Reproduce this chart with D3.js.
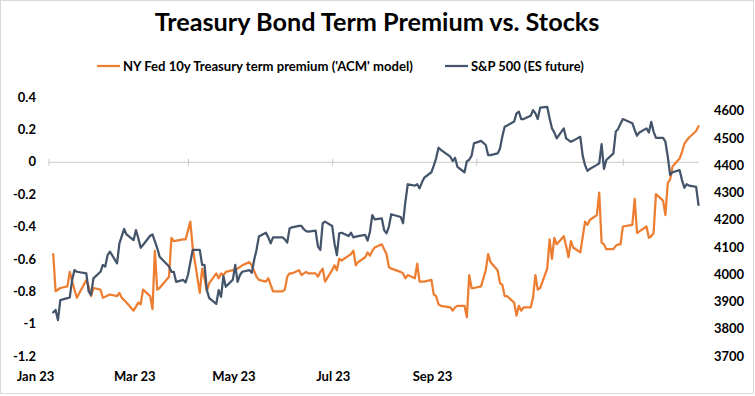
<!DOCTYPE html>
<html><head><meta charset="utf-8">
<script src="https://cdn.jsdelivr.net/npm/d3@7"></script>
<style>
body{margin:0;background:#fff}
svg{display:block}
text{font-family:Lato,"Liberation Sans",sans-serif;font-weight:700;fill:#000}
</style>
</head><body>
<svg id="c" width="755" height="396"></svg>
<script>
const chartTitle = "Treasury Bond Term Premium vs. Stocks";
const seriesNames = ["NY Fed 10y Treasury term premium ('ACM' model)", "S&P 500 (ES future)"];
const seriesColors = ["#ED7D31", "#44546A"];

const premDates = ["01-03","01-04","01-06","01-09","01-10","01-11","01-13","01-17","01-18","01-19","01-20","01-23","01-24","01-27","01-30","01-31",
"02-01","02-03","02-06","02-08","02-09","02-10","02-13","02-14","02-15","02-16","02-17","02-21","02-22","02-23","02-27","02-28",
"03-02","03-03","03-06","03-07","03-08","03-09","03-10","03-13","03-14","03-15","03-16","03-17","03-20","03-22","03-23","03-24","03-27","03-28","03-30","03-31",
"04-03","04-04","04-05","04-06","04-10","04-11","04-12","04-13","04-14","04-17","04-18","04-20","04-21","04-24","04-25","04-26","04-27","04-28",
"05-01","05-02","05-03","05-04","05-05","05-08","05-09","05-10","05-11","05-12","05-15","05-16","05-17","05-18","05-19","05-22","05-23","05-24","05-25","05-26","05-30","05-31",
"06-01","06-02","06-05","06-06","06-07","06-09","06-12","06-13","06-14","06-15","06-16","06-20","06-21","06-22","06-23","06-26","06-27","06-28","06-29","06-30",
"07-03","07-05","07-06","07-07","07-10","07-11","07-12","07-13","07-14","07-17","07-18","07-19","07-20","07-21","07-24","07-25","07-26","07-27","07-28","07-31",
"08-01","08-02","08-03","08-04","08-07","08-08","08-09","08-10","08-11","08-14","08-16","08-17","08-18","08-21","08-22","08-23","08-24","08-25","08-28","08-29","08-30","08-31",
"09-01","09-05","09-06","09-07","09-08","09-11","09-12","09-13","09-14","09-15","09-18","09-19","09-20","09-21","09-22","09-25","09-26","09-27","09-28","09-29",
"10-02","10-03"];
const premValues = [-0.57,-0.80,-0.78,-0.77,-0.68,-0.74,-0.84,-0.73,-0.77,-0.83,-0.78,-0.79,-0.84,-0.82,-0.83,-0.81,
-0.84,-0.87,-0.92,-0.87,-0.88,-0.79,-0.83,-0.91,-0.55,-0.79,-0.78,-0.71,-0.47,-0.49,-0.48,-0.48,
-0.37,-0.53,-0.81,-0.66,-0.72,-0.80,-0.75,-0.69,-0.72,-0.69,-0.70,-0.68,-0.67,-0.66,-0.65,-0.64,-0.62,-0.64,-0.71,-0.73,
-0.74,-0.72,-0.76,-0.80,-0.80,-0.79,-0.71,-0.69,-0.69,-0.67,-0.70,-0.68,-0.69,-0.69,-0.71,-0.68,-0.66,-0.74,
-0.67,-0.64,-0.67,-0.60,-0.61,-0.58,-0.57,-0.55,-0.64,-0.62,-0.59,-0.56,-0.58,-0.55,-0.53,-0.51,-0.54,-0.57,-0.65,-0.66,-0.68,-0.69,
-0.72,-0.70,-0.72,-0.63,-0.74,-0.74,-0.73,-0.82,-0.83,-0.88,-0.89,-0.90,-0.92,-0.90,-0.89,-0.89,-0.96,-0.70,-0.78,-0.78,
-0.77,-0.67,-0.57,-0.62,-0.67,-0.75,-0.76,-0.83,-0.83,-0.87,-0.95,-0.89,-0.92,-0.90,-0.90,-0.84,-0.70,-0.79,-0.78,-0.66,
-0.48,-0.60,-0.47,-0.51,-0.46,-0.52,-0.59,-0.49,-0.53,-0.56,-0.37,-0.39,-0.36,-0.33,-0.19,-0.50,-0.51,-0.54,-0.54,-0.52,-0.51,-0.51,
-0.40,-0.39,-0.23,-0.44,-0.43,-0.40,-0.47,-0.46,-0.44,-0.20,-0.24,-0.33,-0.13,-0.11,-0.03,0.02,0.06,0.11,0.13,0.15,
0.19,0.22];

const spxDates = ["01-03","01-04","01-05","01-06","01-09","01-10","01-11","01-12","01-13","01-17","01-18","01-19","01-20","01-23","01-24","01-25","01-26","01-27","01-30","01-31",
"02-02","02-03","02-06","02-07","02-08","02-09","02-10","02-13","02-14","02-16","02-17","02-21","02-22","02-23","02-24","02-27","02-28",
"03-01","03-03","03-06","03-07","03-08","03-09","03-10","03-13","03-14","03-15","03-16","03-17","03-20","03-21","03-22","03-23","03-24","03-27","03-28","03-29","03-30","03-31",
"04-03","04-04","04-05","04-06","04-10","04-11","04-12","04-13","04-14","04-17","04-18","04-19","04-20","04-21","04-24","04-25","04-26","04-27","04-28",
"05-01","05-02","05-03","05-04","05-05","05-08","05-09","05-10","05-11","05-12","05-15","05-16","05-17","05-18","05-19","05-22","05-23","05-24","05-25","05-26","05-30","05-31",
"06-01","06-02","06-05","06-06","06-07","06-08","06-09","06-12","06-13","06-14","06-15","06-16","06-20","06-21","06-22","06-23","06-26","06-27","06-28","06-29","06-30",
"07-03","07-05","07-06","07-07","07-10","07-11","07-12","07-13","07-14","07-17","07-18","07-19","07-20","07-21","07-24","07-25","07-26","07-27","07-28","07-31",
"08-01","08-02","08-03","08-04","08-07","08-08","08-09","08-10","08-11","08-14","08-15","08-16","08-17","08-18","08-21","08-22","08-23","08-24","08-25","08-28","08-29","08-30","08-31",
"09-01","09-05","09-06","09-07","09-08","09-11","09-12","09-13","09-14","09-15","09-18","09-19","09-20","09-21","09-22","09-25","09-26","09-27","09-28","09-29",
"10-02","10-03"];
const spxValues = [3860,3869,3832,3905,3912,3915,3979,4015,4009,4003,3936,3924,3985,4009,4034,4028,4070,4083,4040,4113,
4166,4146,4125,4162,4132,4097,4107,4141,4146,4096,4064,4028,4009,4009,3972,3979,3970,
3997,4089,4089,4034,4034,3942,3912,3891,3942,3917,3993,3954,3980,4034,3972,3997,4009,4015,4005,4052,4089,4138,
4152,4135,4113,4135,4135,4128,4116,4168,4172,4177,4177,4165,4158,4156,4160,4101,4089,4187,4193,
4177,4113,4070,4150,4152,4140,4152,4135,4138,4140,4144,4123,4156,4217,4201,4205,4162,4150,4174,4220,4210,4187,
4266,4330,4325,4330,4315,4337,4354,4374,4398,4425,4464,4456,4431,4415,4427,4394,4374,4414,4420,4435,4480,
4489,4474,4437,4437,4443,4460,4505,4541,4545,4560,4590,4596,4569,4569,4581,4602,4590,4569,4611,4614,
4572,4535,4520,4498,4535,4498,4492,4486,4490,4504,4435,4400,4379,4386,4401,4407,4477,4386,4419,4443,4523,4533,4552,
4569,4554,4529,4508,4520,4535,4520,4559,4523,4500,4500,4486,4431,4364,4374,4382,4346,4317,4330,4325,
4320,4254];

const leftTicks = [0.4, 0.2, 0, -0.2, -0.4, -0.6, -0.8, -1, -1.2];
const rightTicks = [3700, 3800, 3900, 4000, 4100, 4200, 4300, 4400, 4500, 4600];
const xLabels = ["Jan 23", "Mar 23", "May 23", "Jul 23", "Sep 23"];
const xTickDates = ["01-01", "03-01", "05-01", "07-01", "09-01"];
const xDomain = ["01-01", "10-03"];

const parse = d3.timeParse("%Y-%m-%d");
const pd = s => parse("2023-" + s);
const FONT = "Lato, 'Liberation Sans', sans-serif";

const svg = d3.select("#c");
svg.append("rect").attr("x", 0.5).attr("y", 0.5).attr("width", 753).attr("height", 393)
  .attr("fill", "#fff").attr("stroke", "#d9d9d9");

const x = d3.scaleTime().domain(xDomain.map(pd)).range([48.5, 698.5]);
const yL = d3.scaleLinear().domain([-1.2, 0.4]).range([356, 97]);
const yR = d3.scaleLinear().domain([3700, 4650]).range([356, 97]);
const xLab = d3.scalePoint().domain(xLabels).range([35, 432]);

function fit(sel, w) {
  const cur = sel.node().getComputedTextLength();
  sel.attr("font-size", parseFloat(sel.attr("font-size")) * w / cur);
}

// Title
const t = svg.append("text").attr("x", 377).attr("y", 31).attr("text-anchor", "middle")
  .attr("font-size", 22).text(chartTitle);
fit(t, 445);

// Legend
const leg = [{x0: 97, x1: 120, tx: 123, w: 290}, {x0: 445, x1: 468, tx: 471, w: 113}];
leg.forEach((L, i) => {
  svg.append("line").attr("x1", L.x0).attr("x2", L.x1).attr("y1", 66).attr("y2", 66)
    .attr("stroke", seriesColors[i]).attr("stroke-width", 2.25);
  const tt = svg.append("text").attr("x", L.tx).attr("y", 66).attr("dy", "0.35em")
    .attr("font-size", 13).text(seriesNames[i]);
  fit(tt, L.w);
});

// Left axis
const gl = svg.append("g").attr("transform", "translate(36,0)")
  .call(d3.axisLeft(yL).tickValues(leftTicks).tickSize(0).tickPadding(0).tickFormat(d => String(d)));
gl.select(".domain").remove();
gl.selectAll("text").attr("font-size", 13).attr("font-family", null).style("font-family", FONT);

// Right axis
const gr = svg.append("g").attr("transform", "translate(714,0)")
  .call(d3.axisRight(yR).tickValues(rightTicks).tickSize(0).tickPadding(0).tickFormat(d3.format("d")));
gr.select(".domain").remove();
gr.selectAll("text").attr("font-size", 13).attr("font-family", null).style("font-family", FONT);

// Zero (horizontal) axis line with tick marks
const gz = svg.append("g").attr("transform", `translate(0,${yL(0)})`)
  .call(d3.axisBottom(x).tickValues(xTickDates.map(pd)).tickSizeOuter(0).tickFormat(""));
gz.select(".domain").attr("stroke", "#c8c8c8").attr("stroke-width", 1);
gz.selectAll(".tick line").attr("y1", -3).attr("y2", 4).attr("stroke", "#c8c8c8");

// X labels
const gx = svg.append("g").attr("transform", "translate(0,372)")
  .call(d3.axisBottom(xLab).tickSize(0).tickPadding(0));
gx.select(".domain").remove();
gx.selectAll("text").attr("font-size", 13).attr("font-family", null).style("font-family", FONT);

// Lines
const premData = premDates.map((d, i) => ({d: pd(d), v: premValues[i]}));
const spxData = spxDates.map((d, i) => ({d: pd(d), v: spxValues[i]}));

svg.append("path").datum(premData)
  .attr("fill", "none").attr("stroke", seriesColors[0]).attr("stroke-width", 2.25)
  .attr("stroke-linejoin", "round").attr("stroke-linecap", "round")
  .attr("d", d3.line().x(p => x(p.d)).y(p => yL(p.v)));
svg.append("path").datum(spxData)
  .attr("fill", "none").attr("stroke", seriesColors[1]).attr("stroke-width", 2.25)
  .attr("stroke-linejoin", "round").attr("stroke-linecap", "round")
  .attr("d", d3.line().x(p => x(p.d)).y(p => yR(p.v)));
</script>
</body></html>
